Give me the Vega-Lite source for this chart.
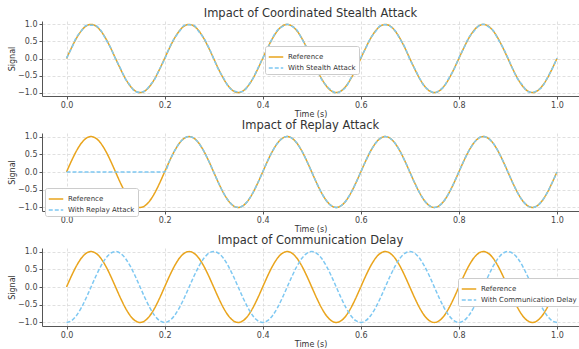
{
  "$schema": "https://vega.github.io/schema/vega-lite/v6.json",
  "padding": {"left": 8, "top": 7, "right": 0, "bottom": 0},
  "spacing": 2,
  "background": "white",
  "config": {
    "font": "DejaVu Sans",
    "view": {"stroke": null},
    "title": {"fontSize": 11.5, "fontWeight": "normal", "color": "#333333", "offset": 1, "font": "DejaVu Sans"},
    "axis": {
      "labelFont": "DejaVu Sans", "titleFont": "DejaVu Sans",
      "labelFontSize": 8, "titleFontSize": 8, "titleFontWeight": "normal",
      "labelColor": "#444444", "titleColor": "#333333",
      "domainColor": "#555555", "tickColor": "#555555", "tickSize": 3,
      "gridColor": "#d8d8d8", "gridDash": [3, 2], "gridWidth": 0.8,
      "labelPadding": 2, "titlePadding": 1
    },
    "legend": {
      "labelFont": "DejaVu Sans", "labelFontSize": 7, "labelColor": "#333333",
      "fillColor": "white", "strokeColor": "#cccccc", "cornerRadius": 2,
      "padding": 3, "rowPadding": -3, "symbolType": "stroke",
      "symbolSize": 210, "symbolStrokeWidth": 1.5, "orient": "none", "labelOffset": 4
    }
  },
  "data": {
    "values": [
      {"t":0,"r":0,"s":0.012,"p":0,"d":-1},
      {"t":0.01,"r":0.309,"s":0.291,"p":0,"d":-0.951},
      {"t":0.02,"r":0.588,"s":0.613,"p":0,"d":-0.809},
      {"t":0.03,"r":0.809,"s":0.803,"p":0,"d":-0.588},
      {"t":0.04,"r":0.951,"s":0.97,"p":0,"d":-0.309},
      {"t":0.05,"r":1,"s":0.979,"p":0,"d":0},
      {"t":0.06,"r":0.951,"s":0.959,"p":0,"d":0.309},
      {"t":0.07,"r":0.809,"s":0.824,"p":0,"d":0.588},
      {"t":0.08,"r":0.588,"s":0.564,"p":0,"d":0.809},
      {"t":0.09,"r":0.309,"s":0.313,"p":0,"d":0.951},
      {"t":0.1,"r":0,"s":-0.013,"p":0,"d":1},
      {"t":0.11,"r":-0.309,"s":-0.287,"p":0,"d":0.951},
      {"t":0.12,"r":-0.588,"s":-0.597,"p":0,"d":0.809},
      {"t":0.13,"r":-0.809,"s":-0.792,"p":0,"d":0.588},
      {"t":0.14,"r":-0.951,"s":-0.971,"p":0,"d":0.309},
      {"t":0.15,"r":-1,"s":-0.989,"p":0,"d":0},
      {"t":0.16,"r":-0.951,"s":-0.954,"p":0,"d":-0.309},
      {"t":0.17,"r":-0.809,"s":-0.785,"p":0,"d":-0.588},
      {"t":0.18,"r":-0.588,"s":-0.604,"p":0,"d":-0.809},
      {"t":0.19,"r":-0.309,"s":-0.302,"p":0,"d":-0.951},
      {"t":0.2,"r":0,"s":-0.022,"p":0,"d":-1},
      {"t":0.21,"r":0.309,"s":0.323,"p":0.309,"d":-0.951},
      {"t":0.22,"r":0.588,"s":0.591,"p":0.588,"d":-0.809},
      {"t":0.23,"r":0.809,"s":0.79,"p":0.809,"d":-0.588},
      {"t":0.24,"r":0.951,"s":0.972,"p":0.951,"d":-0.309},
      {"t":0.25,"r":1,"s":0.99,"p":1,"d":0},
      {"t":0.26,"r":0.951,"s":0.969,"p":0.951,"d":0.309},
      {"t":0.27,"r":0.809,"s":0.784,"p":0.809,"d":0.588},
      {"t":0.28,"r":0.588,"s":0.597,"p":0.588,"d":0.809},
      {"t":0.29,"r":0.309,"s":0.325,"p":0.309,"d":0.951},
      {"t":0.3,"r":0,"s":-0.007,"p":0,"d":1},
      {"t":0.31,"r":-0.309,"s":-0.329,"p":-0.309,"d":0.951},
      {"t":0.32,"r":-0.588,"s":-0.565,"p":-0.588,"d":0.809},
      {"t":0.33,"r":-0.809,"s":-0.821,"p":-0.809,"d":0.588},
      {"t":0.34,"r":-0.951,"s":-0.946,"p":-0.951,"d":0.309},
      {"t":0.35,"r":-1,"s":-0.98,"p":-1,"d":0},
      {"t":0.36,"r":-0.951,"s":-0.968,"p":-0.951,"d":-0.309},
      {"t":0.37,"r":-0.809,"s":-0.799,"p":-0.809,"d":-0.588},
      {"t":0.38,"r":-0.588,"s":-0.592,"p":-0.588,"d":-0.809},
      {"t":0.39,"r":-0.309,"s":-0.29,"p":-0.309,"d":-0.951},
      {"t":0.4,"r":0,"s":0.006,"p":0,"d":-1},
      {"t":0.41,"r":0.309,"s":0.286,"p":0.309,"d":-0.951},
      {"t":0.42,"r":0.588,"s":0.601,"p":0.588,"d":-0.809},
      {"t":0.43,"r":0.809,"s":0.83,"p":0.809,"d":-0.588},
      {"t":0.44,"r":0.951,"s":0.936,"p":0.951,"d":-0.309},
      {"t":0.45,"r":1,"s":1.002,"p":1,"d":0},
      {"t":0.46,"r":0.951,"s":0.94,"p":0.951,"d":0.309},
      {"t":0.47,"r":0.809,"s":0.833,"p":0.809,"d":0.588},
      {"t":0.48,"r":0.588,"s":0.57,"p":0.588,"d":0.809},
      {"t":0.49,"r":0.309,"s":0.317,"p":0.309,"d":0.951},
      {"t":0.5,"r":0,"s":0.016,"p":0,"d":1},
      {"t":0.51,"r":-0.309,"s":-0.315,"p":-0.309,"d":0.951},
      {"t":0.52,"r":-0.588,"s":-0.609,"p":-0.588,"d":0.809},
      {"t":0.53,"r":-0.809,"s":-0.797,"p":-0.809,"d":0.588},
      {"t":0.54,"r":-0.951,"s":-0.932,"p":-0.951,"d":0.309},
      {"t":0.55,"r":-1,"s":-1.014,"p":-1,"d":0},
      {"t":0.56,"r":-0.951,"s":-0.947,"p":-0.951,"d":-0.309},
      {"t":0.57,"r":-0.809,"s":-0.833,"p":-0.809,"d":-0.588},
      {"t":0.58,"r":-0.588,"s":-0.571,"p":-0.588,"d":-0.809},
      {"t":0.59,"r":-0.309,"s":-0.318,"p":-0.309,"d":-0.951},
      {"t":0.6,"r":0,"s":0.022,"p":0,"d":-1},
      {"t":0.61,"r":0.309,"s":0.296,"p":0.309,"d":-0.951},
      {"t":0.62,"r":0.588,"s":0.595,"p":0.588,"d":-0.809},
      {"t":0.63,"r":0.809,"s":0.79,"p":0.809,"d":-0.588},
      {"t":0.64,"r":0.951,"s":0.962,"p":0.951,"d":-0.309},
      {"t":0.65,"r":1,"s":0.993,"p":1,"d":0},
      {"t":0.66,"r":0.951,"s":0.943,"p":0.951,"d":0.309},
      {"t":0.67,"r":0.809,"s":0.812,"p":0.809,"d":0.588},
      {"t":0.68,"r":0.588,"s":0.572,"p":0.588,"d":0.809},
      {"t":0.69,"r":0.309,"s":0.329,"p":0.309,"d":0.951},
      {"t":0.7,"r":0,"s":-0.022,"p":0,"d":1},
      {"t":0.71,"r":-0.309,"s":-0.294,"p":-0.309,"d":0.951},
      {"t":0.72,"r":-0.588,"s":-0.582,"p":-0.588,"d":0.809},
      {"t":0.73,"r":-0.809,"s":-0.821,"p":-0.809,"d":0.588},
      {"t":0.74,"r":-0.951,"s":-0.933,"p":-0.951,"d":0.309},
      {"t":0.75,"r":-1,"s":-1.01,"p":-1,"d":0},
      {"t":0.76,"r":-0.951,"s":-0.942,"p":-0.951,"d":-0.309},
      {"t":0.77,"r":-0.809,"s":-0.814,"p":-0.809,"d":-0.588},
      {"t":0.78,"r":-0.588,"s":-0.565,"p":-0.588,"d":-0.809},
      {"t":0.79,"r":-0.309,"s":-0.326,"p":-0.309,"d":-0.951},
      {"t":0.8,"r":0,"s":0.014,"p":0,"d":-1},
      {"t":0.81,"r":0.309,"s":0.299,"p":0.309,"d":-0.951},
      {"t":0.82,"r":0.588,"s":0.609,"p":0.588,"d":-0.809},
      {"t":0.83,"r":0.809,"s":0.785,"p":0.809,"d":-0.588},
      {"t":0.84,"r":0.951,"s":0.952,"p":0.951,"d":-0.309},
      {"t":0.85,"r":1,"s":1.008,"p":1,"d":0},
      {"t":0.86,"r":0.951,"s":0.936,"p":0.951,"d":0.309},
      {"t":0.87,"r":0.809,"s":0.821,"p":0.809,"d":0.588},
      {"t":0.88,"r":0.588,"s":0.567,"p":0.588,"d":0.809},
      {"t":0.89,"r":0.309,"s":0.317,"p":0.309,"d":0.951},
      {"t":0.9,"r":0,"s":0.019,"p":0,"d":1},
      {"t":0.91,"r":-0.309,"s":-0.316,"p":-0.309,"d":0.951},
      {"t":0.92,"r":-0.588,"s":-0.601,"p":-0.588,"d":0.809},
      {"t":0.93,"r":-0.809,"s":-0.785,"p":-0.809,"d":0.588},
      {"t":0.94,"r":-0.951,"s":-0.969,"p":-0.951,"d":0.309},
      {"t":0.95,"r":-1,"s":-0.995,"p":-1,"d":0},
      {"t":0.96,"r":-0.951,"s":-0.935,"p":-0.951,"d":-0.309},
      {"t":0.97,"r":-0.809,"s":-0.832,"p":-0.809,"d":-0.588},
      {"t":0.98,"r":-0.588,"s":-0.578,"p":-0.588,"d":-0.809},
      {"t":0.99,"r":-0.309,"s":-0.311,"p":-0.309,"d":-0.951},
      {"t":1,"r":0,"s":0.011,"p":0,"d":-1}
    ]
  },
  "resolve": {
    "scale": {"color": "independent", "strokeDash": "independent", "x": "independent", "y": "independent"},
    "legend": {"color": "independent", "strokeDash": "independent"}
  },
  "vconcat": [
    {
      "title": "Impact of Coordinated Stealth Attack",
      "width": 537, "height": 75,
      "transform": [{"fold": ["r", "s"], "as": ["k", "v"]}],
      "mark": {"type": "line", "interpolate": "monotone", "strokeWidth": 1.5},
      "encoding": {
        "x": {"field": "t", "type": "quantitative", "scale": {"domain": [-0.05, 1.045], "nice": false, "zero": false}, "axis": {"values": [0, 0.2, 0.4, 0.6, 0.8, 1], "format": ".1f", "title": "Time (s)"}},
        "y": {"field": "v", "type": "quantitative", "scale": {"domain": [-1.1, 1.1], "nice": false}, "axis": {"values": [-1, -0.5, 0, 0.5, 1], "format": ".1f", "title": "Signal"}},
        "color": {"field": "k", "type": "nominal", "scale": {"domain": ["r", "s"], "range": ["#e9a41c", "#7ec8f2"]},
          "legend": {"title": null, "legendX": 223, "legendY": 25, "labelExpr": "datum.label == 'r' ? 'Reference' : 'With Stealth Attack'"}},
        "strokeDash": {"field": "k", "type": "nominal", "scale": {"domain": ["r", "s"], "range": [[1, 0], [4, 2]]},
          "legend": {"title": null, "legendX": 223, "legendY": 25, "labelExpr": "datum.label == 'r' ? 'Reference' : 'With Stealth Attack'"}}
      }
    },
    {
      "title": "Impact of Replay Attack",
      "width": 537, "height": 78,
      "transform": [{"fold": ["r", "p"], "as": ["k", "v"]}],
      "mark": {"type": "line", "interpolate": "monotone", "strokeWidth": 1.5},
      "encoding": {
        "x": {"field": "t", "type": "quantitative", "scale": {"domain": [-0.05, 1.045], "nice": false, "zero": false}, "axis": {"values": [0, 0.2, 0.4, 0.6, 0.8, 1], "format": ".1f", "title": "Time (s)"}},
        "y": {"field": "v", "type": "quantitative", "scale": {"domain": [-1.1, 1.1], "nice": false}, "axis": {"values": [-1, -0.5, 0, 0.5, 1], "format": ".1f", "title": "Signal"}},
        "color": {"field": "k", "type": "nominal", "scale": {"domain": ["r", "p"], "range": ["#e9a41c", "#7ec8f2"]},
          "legend": {"title": null, "legendX": 3, "legendY": 55, "labelExpr": "datum.label == 'r' ? 'Reference' : 'With Replay Attack'"}},
        "strokeDash": {"field": "k", "type": "nominal", "scale": {"domain": ["r", "p"], "range": [[1, 0], [4, 2]]},
          "legend": {"title": null, "legendX": 3, "legendY": 55, "labelExpr": "datum.label == 'r' ? 'Reference' : 'With Replay Attack'"}}
      }
    },
    {
      "title": "Impact of Communication Delay",
      "width": 537, "height": 78,
      "transform": [{"fold": ["r", "d"], "as": ["k", "v"]}],
      "mark": {"type": "line", "interpolate": "monotone", "strokeWidth": 1.5},
      "encoding": {
        "x": {"field": "t", "type": "quantitative", "scale": {"domain": [-0.05, 1.045], "nice": false, "zero": false}, "axis": {"values": [0, 0.2, 0.4, 0.6, 0.8, 1], "format": ".1f", "title": "Time (s)"}},
        "y": {"field": "v", "type": "quantitative", "scale": {"domain": [-1.1, 1.1], "nice": false}, "axis": {"values": [-1, -0.5, 0, 0.5, 1], "format": ".1f", "title": "Signal"}},
        "color": {"field": "k", "type": "nominal", "scale": {"domain": ["r", "d"], "range": ["#e9a41c", "#7ec8f2"]},
          "legend": {"title": null, "legendX": 416, "legendY": 30, "labelExpr": "datum.label == 'r' ? 'Reference' : 'With Communication Delay'"}},
        "strokeDash": {"field": "k", "type": "nominal", "scale": {"domain": ["r", "d"], "range": [[1, 0], [4, 2]]},
          "legend": {"title": null, "legendX": 416, "legendY": 30, "labelExpr": "datum.label == 'r' ? 'Reference' : 'With Communication Delay'"}}
      }
    }
  ]
}
